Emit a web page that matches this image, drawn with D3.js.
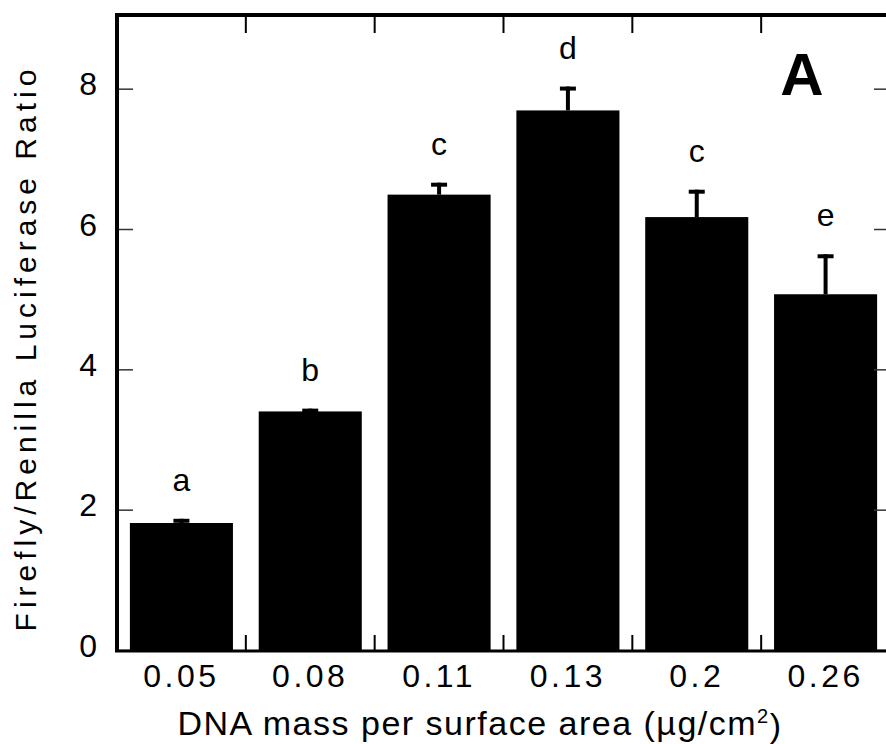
<!DOCTYPE html>
<html>
<head>
<meta charset="utf-8">
<script src="https://cdn.jsdelivr.net/npm/d3@7"></script>
<style>
  body { margin: 0; background: #fff; overflow: hidden; }
  text { font-family: "Liberation Sans", Arial, sans-serif; fill: #000; }
</style>
</head>
<body>
<div class="chart"></div>
<script>
// data
var doses = ["0.05", "0.08", "0.11", "0.13", "0.2", "0.26"];
var ratios = [1.81, 3.40, 6.49, 7.69, 6.17, 5.07];
var errors = [0.06, 0.04, 0.17, 0.34, 0.39, 0.57];
var groups = ["a", "b", "c", "d", "c", "e"];
var yTicks = [0, 2, 4, 6, 8];

var data = doses.map(function(d, i) {
  return {dose: d, ratio: ratios[i], err: errors[i], group: groups[i]};
});

// set the dimensions and margins of the graph
var margin = {top: 15, right: -4, bottom: 94, left: 117},
    width = 886 - margin.left - margin.right,
    height = 744 - margin.top - margin.bottom;

var x = d3.scaleBand()
    .domain(doses)
    .range([0, width])
    .paddingInner(0.2)
    .paddingOuter(0.1);

var y = d3.scaleLinear()
    .domain([0, 9.05])
    .range([height, 0]);

var svg = d3.select(".chart").append("svg")
    .attr("width", 886)
    .attr("height", 744)
    .style("display", "block");

var g = svg.append("g")
    .attr("transform", "translate(" + margin.left + "," + margin.top + ")");

// bars
g.selectAll(".bar")
    .data(data)
  .enter().append("rect")
    .attr("class", "bar")
    .attr("x", function(d) { return x(d.dose); })
    .attr("width", x.bandwidth())
    .attr("y", function(d) { return y(d.ratio); })
    .attr("height", function(d) { return height - y(d.ratio); })
    .style("fill", "#000");

// error bars (upper only)
var eb = g.selectAll(".err")
    .data(data)
  .enter().append("g")
    .attr("class", "err");

eb.append("line")
    .attr("x1", function(d) { return x(d.dose) + x.bandwidth() / 2; })
    .attr("x2", function(d) { return x(d.dose) + x.bandwidth() / 2; })
    .attr("y1", function(d) { return y(d.ratio); })
    .attr("y2", function(d) { return y(d.ratio + d.err); })
    .style("stroke", "#000")
    .style("stroke-width", 4);

eb.append("line")
    .attr("x1", function(d) { return x(d.dose) + x.bandwidth() / 2 - 8; })
    .attr("x2", function(d) { return x(d.dose) + x.bandwidth() / 2 + 8; })
    .attr("y1", function(d) { return y(d.ratio + d.err) + 2; })
    .attr("y2", function(d) { return y(d.ratio + d.err) + 2; })
    .style("stroke", "#000")
    .style("stroke-width", 4);

// significance letters
g.selectAll(".grp")
    .data(data)
  .enter().append("text")
    .attr("class", "grp")
    .attr("x", function(d) { return x(d.dose) + x.bandwidth() / 2; })
    .attr("y", function(d) { return y(d.ratio + d.err) - 28; })
    .attr("text-anchor", "middle")
    .style("font-size", "32px")
    .text(function(d) { return d.group; });

// left axis, ticks pointing inward
var yAxis = g.append("g")
    .call(d3.axisLeft(y).tickValues(yTicks).tickSize(-16).tickPadding(20));
yAxis.select(".domain").remove();
yAxis.selectAll(".tick line").style("stroke", "#333").style("stroke-width", 1.5);
yAxis.selectAll(".tick text")
    .attr("dy", "0.19em")
    .style("font-size", "32px")
    .style("font-family", "'Liberation Sans', Arial, sans-serif");

// right axis ticks
var yAxisR = g.append("g")
    .attr("transform", "translate(" + width + ",0)")
    .call(d3.axisRight(y).tickValues(yTicks).tickSize(-16).tickFormat(""));
yAxisR.select(".domain").remove();
yAxisR.selectAll(".tick line").style("stroke", "#333").style("stroke-width", 1.5);

// bottom axis labels at band centres
var xAxis = g.append("g")
    .attr("transform", "translate(0," + height + ")")
    .call(d3.axisBottom(x).tickSize(0).tickPadding(14));
xAxis.select(".domain").remove();
xAxis.selectAll(".tick text")
    .style("font-size", "32px")
    .style("letter-spacing", "3.5px")
    .style("font-family", "'Liberation Sans', Arial, sans-serif");

// category separator ticks on bottom and top
var bounds = doses.slice(1).map(function(d) {
  return x(d) - (x.step() - x.bandwidth()) / 2;
});

g.selectAll(".btick")
    .data(bounds)
  .enter().append("line")
    .attr("x1", function(d) { return d; })
    .attr("x2", function(d) { return d; })
    .attr("y1", height)
    .attr("y2", height - 15)
    .style("stroke", "#000")
    .style("stroke-width", 2);

g.selectAll(".ttick")
    .data(bounds)
  .enter().append("line")
    .attr("x1", function(d) { return d; })
    .attr("x2", function(d) { return d; })
    .attr("y1", 0)
    .attr("y2", 18)
    .style("stroke", "#000")
    .style("stroke-width", 2);

// frame (right edge falls outside the picture)
g.append("line").attr("x1", 0).attr("x2", 0).attr("y1", -2).attr("y2", height + 2)
    .style("stroke", "#000").style("stroke-width", 4);
g.append("line").attr("x1", -2).attr("x2", width).attr("y1", 0).attr("y2", 0)
    .style("stroke", "#000").style("stroke-width", 4);
g.append("line").attr("x1", -2).attr("x2", width).attr("y1", height + 1).attr("y2", height + 1)
    .style("stroke", "#000").style("stroke-width", 3);

// panel letter
g.append("text")
    .attr("x", 685)
    .attr("y", 80)
    .attr("text-anchor", "middle")
    .style("font-size", "60px")
    .style("font-weight", "bold")
    .text("A");

// axis titles
var xt = svg.append("text")
    .attr("x", 480)
    .attr("y", 735)
    .attr("text-anchor", "middle")
    .style("font-size", "34px")
    .style("letter-spacing", "1.5px");
xt.append("tspan").text("DNA mass per surface area (\u00b5g/cm");
xt.append("tspan").attr("dy", "-0.6em").style("font-size", "20px").text("2");
xt.append("tspan").attr("dy", "0.42em").text(")");

svg.append("text")
    .attr("transform", "translate(36,348) rotate(-90)")
    .attr("text-anchor", "middle")
    .style("font-size", "30px")
    .style("letter-spacing", "5px")
    .text("Firefly/Renilla Luciferase Ratio");
</script>
</body>
</html>
